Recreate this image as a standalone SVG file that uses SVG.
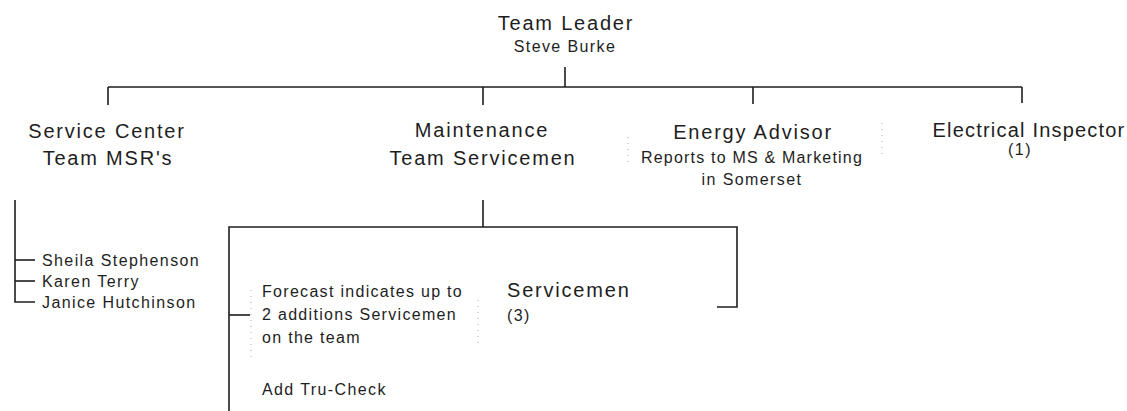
<svg xmlns="http://www.w3.org/2000/svg" width="1127" height="411" viewBox="0 0 1127 411">
<style>
text{font-family:"Liberation Sans",Arial,sans-serif;fill:#1e1e1e}
.t{font-size:20px;letter-spacing:1.8px;text-anchor:middle}
.s{font-size:16px;letter-spacing:1.4px;text-anchor:middle}
.n{font-size:16px;letter-spacing:1.4px}
.c line,.c polyline{stroke:#1e1e1e;stroke-width:1.6;fill:none}
.d{stroke:#aaa;stroke-width:1;stroke-dasharray:1 5;fill:none}
</style>
<rect width="1127" height="411" fill="#fff"/>
<g class="c" id="connectors">
<line x1="565" y1="67" x2="565" y2="87"/>
<line x1="108" y1="87" x2="1022" y2="87"/>
<line x1="108" y1="87" x2="108" y2="105"/>
<line x1="483" y1="87" x2="483" y2="105"/>
<line x1="753" y1="87" x2="753" y2="104"/>
<line x1="1022" y1="87" x2="1022" y2="103"/>
<polyline points="15,200 15,302 35,302"/>
<line x1="15" y1="260" x2="35" y2="260"/>
<line x1="15" y1="281" x2="35" y2="281"/>
<line x1="483" y1="200" x2="483" y2="227"/>
<polyline points="229,411 229,227 737,227 737,307 717,307"/>
<line x1="229" y1="315" x2="250" y2="315"/>
</g>
<g id="artifacts">
<line class="d" x1="251" y1="290" x2="251" y2="357"/>
<line class="d" x1="478" y1="300" x2="478" y2="348"/>
<line class="d" x1="628" y1="137" x2="628" y2="167"/>
<line class="d" x1="882" y1="123" x2="882" y2="157"/>
</g>
<g id="team-leader">
<text class="t" x="566" y="30">Team Leader</text>
<text class="s" x="565" y="52">Steve Burke</text>
</g>
<g id="service-center">
<text class="t" x="107" y="138">Service Center</text>
<text class="t" x="108" y="165">Team MSR's</text>
</g>
<g id="msr-members">
<text class="n" x="42" y="265.5">Sheila Stephenson</text>
<text class="n" x="42" y="286.5">Karen Terry</text>
<text class="n" x="42" y="307.5">Janice Hutchinson</text>
</g>
<g id="maintenance">
<text class="t" x="482" y="137">Maintenance</text>
<text class="t" x="483" y="165">Team Servicemen</text>
</g>
<g id="energy-advisor">
<text class="t" x="753" y="139">Energy Advisor</text>
<text class="s" x="752" y="163" style="letter-spacing:1.2px">Reports to MS &amp; Marketing</text>
<text class="s" x="752" y="185">in Somerset</text>
</g>
<g id="electrical-inspector">
<text class="t" x="1029" y="137" style="letter-spacing:1.2px">Electrical Inspector</text>
<text class="s" x="1020" y="155">(1)</text>
</g>
<g id="forecast">
<text class="n" x="262" y="297" style="letter-spacing:1.3px">Forecast indicates up to</text>
<text class="n" x="262" y="320" style="letter-spacing:1.3px">2 additions Servicemen</text>
<text class="n" x="262" y="343" style="letter-spacing:1.3px">on the team</text>
</g>
<g id="servicemen">
<text class="t" x="507" y="297" style="text-anchor:start">Servicemen</text>
<text class="n" x="507" y="321">(3)</text>
</g>
<g id="tru-check">
<text class="n" x="262" y="395">Add Tru-Check</text>
</g>
</svg>
